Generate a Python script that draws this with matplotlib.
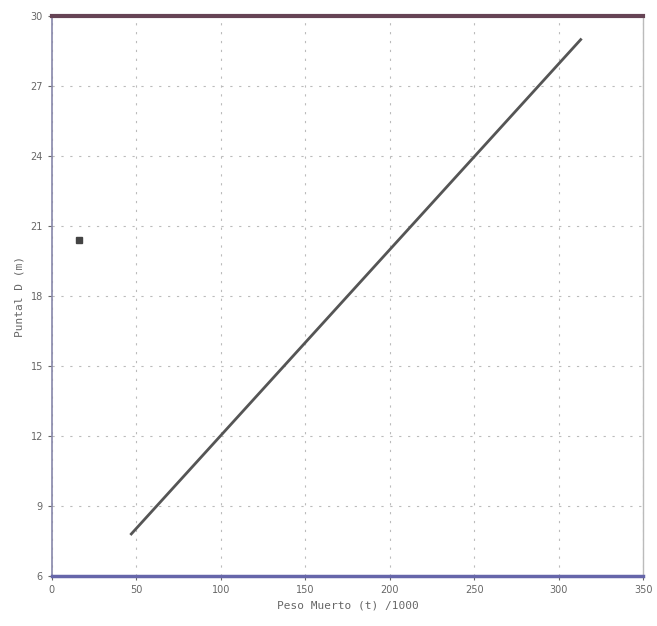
import numpy as np
import matplotlib.pyplot as plt

# x: peso muerto (t)/1000, y: puntal D (m)
xticks = [0, 50, 100, 150, 200, 250, 300, 350]
yticks = [6, 9, 12, 15, 18, 21, 24, 27, 30]

line_x = [47, 313]
line_y = [7.8, 29.0]

point_x = [16]
point_y = [20.4]

fig = plt.figure(figsize=(6.57, 6.26), dpi=100)
ax = fig.add_axes([0.079, 0.080, 0.900, 0.894])

ax.plot(line_x, line_y, color='#555555', lw=2.0)
ax.plot(point_x, point_y, 's', color='#444444', ms=4)

ax.set_xlim(0, 350)
ax.set_ylim(6, 30)
ax.set_xticks(xticks)
ax.set_yticks(yticks)
ax.tick_params(labelsize=7, colors='#666666', length=3)
ax.grid(True, ls=(0, (2, 6)), color='#bbbbbb', lw=0.8)

for s in ['top']:
    ax.spines[s].set_color('#664455')
    ax.spines[s].set_linewidth(3)
ax.spines['bottom'].set_color('#6666aa')
ax.spines['bottom'].set_linewidth(2.5)
ax.spines['left'].set_color('#8888aa')
ax.spines['left'].set_linewidth(1.2)
ax.spines['right'].set_color('#bbbbbb')
ax.spines['right'].set_linewidth(1)

ax.set_xlabel('Peso Muerto (t) /1000', fontsize=8, color='#666666', family='DejaVu Sans Mono')
ax.set_ylabel('Puntal D (m)', fontsize=8, color='#666666', family='DejaVu Sans Mono')

plt.savefig('out.png')
